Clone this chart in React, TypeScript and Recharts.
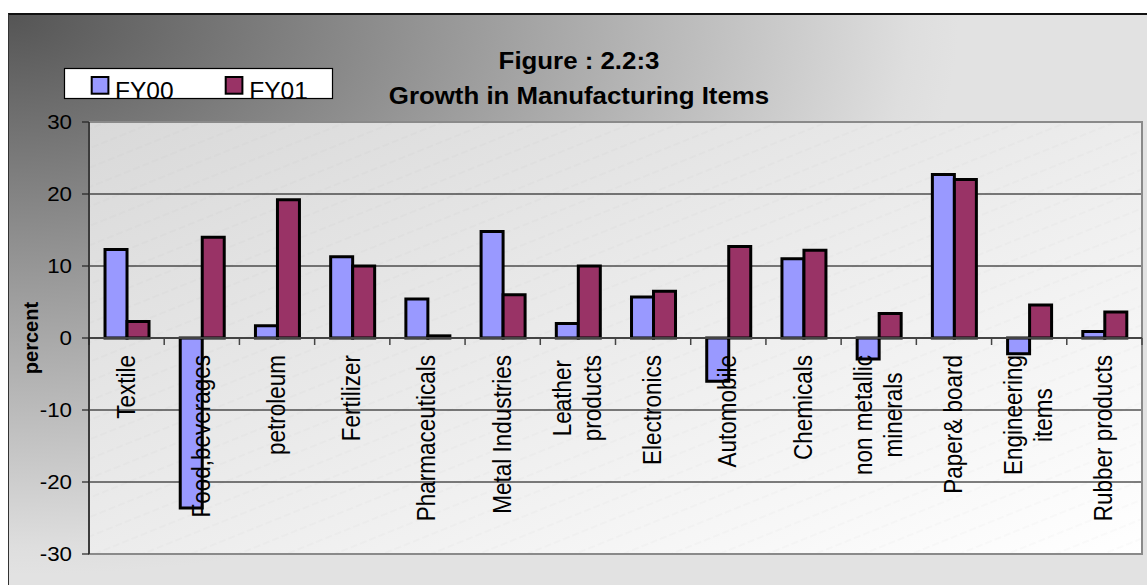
import React from 'react';
import { BarChart, Bar, XAxis, YAxis, CartesianGrid, ReferenceLine, ReferenceArea, Legend, Label } from 'recharts';

const FONT = '"Liberation Sans", Arial, Helvetica, sans-serif';

const categories = [
  'Textile', 'Food,beverages', 'petroleum', 'Fertilizer', 'Pharmaceuticals', 'Metal Industries',
  'Leather products', 'Electronics', 'Automobile', 'Chemicals', 'non metallic minerals',
  'Paper& board', 'Engineering items', 'Rubber products',
];
const categoryLabelLines = [
  ['Textile'], ['Food,beverages'], ['petroleum'], ['Fertilizer'], ['Pharmaceuticals'], ['Metal Industries'],
  ['Leather', 'products'], ['Electronics'], ['Automobile'], ['Chemicals'], ['non metallic', 'minerals'],
  ['Paper& board'], ['Engineering', 'items'], ['Rubber products'],
];
const fy00 = [12.3, -23.6, 1.7, 11.3, 5.4, 14.8, 2.0, 5.7, -6.0, 11.0, -2.9, 22.7, -2.2, 0.9];
const fy01 = [2.3, 14.0, 19.2, 10.0, 0.3, 6.0, 10.0, 6.5, 12.7, 12.2, 3.4, 22.0, 4.6, 3.6];
const yTicks = [-30, -20, -10, 0, 10, 20, 30];
const gridValues = [-20, -10, 10, 20];
const seriesNames = ['FY00', 'FY01'];
const seriesColors = ['#9999FF', '#993366'];
const titleLines = ['Figure : 2.2:3', 'Growth in Manufacturing Items'];
const yAxisTitle = 'percent';

const data = categories.map((c, i) => ({ category: c, [seriesNames[0]]: fy00[i], [seriesNames[1]]: fy01[i] }));

let ctx: CanvasRenderingContext2D | null = null;
function measure(text: string, font: string): number {
  if (!ctx) ctx = document.createElement('canvas').getContext('2d');
  if (!ctx) return text.length * 10;
  ctx.font = font;
  return ctx.measureText(text).width;
}

const CAT_FS = 22.5;
const CAT_SX = 1.12;

const CategoryAxis = (props: any) => {
  const vb = props.viewBox || {};
  const x0 = vb.x ?? 0;
  const y0 = vb.y ?? 0;
  const w = vb.width ?? 0;
  const n = categories.length;
  const band = w / n;
  const elems: any[] = [];
  for (let i = 0; i <= n; i++) {
    elems.push(
      <line key={'t' + i} x1={x0 + i * band} x2={x0 + i * band} y1={y0} y2={y0 + 7} stroke="#444" strokeWidth={1.5} />
    );
  }
  categoryLabelLines.forEach((lines, i) => {
    const cx = x0 + (i + 0.5) * band;
    const widths = lines.map((l) => measure(l, `${CAT_FS}px ${FONT}`));
    const maxW = Math.max(...widths);
    const top = y0 + 17;
    const centerY = top + maxW / 2;
    const spacing = 30;
    lines.forEach((l, j) => {
      const lx = cx + (j - (lines.length - 1) / 2) * spacing;
      const bx = lx + (0.716 * CAT_FS * CAT_SX) / 2 - 1;
      elems.push(
        <text
          key={`l${i}-${j}`}
          transform={`translate(${bx},${centerY}) scale(${CAT_SX},1) rotate(-90)`}
          textAnchor="middle"
          fontSize={CAT_FS}
          fontFamily={FONT}
          fill="#000"
        >
          {l}
        </text>
      );
    });
  });
  return <g>{elems}</g>;
};

const YTick = (p: any) => (
  <text
    transform={`translate(${p.x},${p.y}) scale(1.09,1)`}
    textAnchor="end"
    dy={7.3}
    fontSize={20.5}
    fontFamily={FONT}
    fill="#000"
  >
    {p.payload.value}
  </text>
);

const PercentLabel = (props: any) => {
  const vb = props.viewBox || {};
  const x = (vb.x ?? 0) + 37.5;
  const y = (vb.y ?? 0) + (vb.height ?? 0) / 2;
  return (
    <text transform={`translate(${x},${y}) rotate(-90)`} textAnchor="middle" fontSize={20} fontWeight="bold" fontFamily={FONT} fill="#000">
      {yAxisTitle}
    </text>
  );
};

const LegendBox = (props: any) => {
  const payload = props.payload && props.payload.length ? props.payload : seriesNames.map((s, i) => ({ value: s, color: seriesColors[i] }));
  const markerX = [27.7, 161.7];
  const textX = [51, 185.3];
  return (
    <svg width={269} height={36} style={{ display: 'block', overflow: 'visible' }}>
      <rect x={0.5} y={0.5} width={268} height={30} fill="#fff" stroke="#000" strokeWidth={1.2} />
      {payload.map((item: any, i: number) => (
        <g key={i}>
          <rect x={markerX[i]} y={9} width={16.7} height={16.7} fill={item.color} stroke="#000" strokeWidth={2} />
          <text x={textX[i]} y={30.5} fontSize={24.5} fontFamily={FONT} fill="#000">{item.value}</text>
        </g>
      ))}
    </svg>
  );
};

export default function App() {
  return (
    <div style={{ position: 'absolute', left: 0, top: 0, width: 1147, height: 585, overflow: 'hidden', background: '#fff' }}>
      <div
        style={{
          position: 'absolute',
          left: 8,
          top: 13,
          width: 1200,
          height: 640,
          borderTop: '2px solid #111',
          borderLeft: '1.5px solid #333',
          background: 'radial-gradient(ellipse 950px 560px at 0px 0px, #555555 0%, #dedede 95%, #e2e2e2 100%)',
        }}
      />
      <div style={{ position: 'absolute', left: 0, top: 0 }}>
        <BarChart
          width={1147}
          height={585}
          data={data}
          margin={{ top: 122, right: 5, bottom: 31, left: 0 }}
          barCategoryGap="21.3%"
          barGap={0}
        >
          <defs>
            <linearGradient id="plotGrad" x1="0" y1="0" x2="1" y2="1">
              <stop offset="0" stopColor="#d9d9d9" />
              <stop offset="1" stopColor="#ffffff" />
            </linearGradient>
            <pattern id="hatch" patternUnits="userSpaceOnUse" width="40" height="18" patternTransform="rotate(-22)">
              <line x1="0" y1="9" x2="40" y2="9" stroke="#000" strokeOpacity="0.06" strokeWidth="1" strokeDasharray="7 3" />
            </pattern>
          </defs>
          <XAxis dataKey="category" hide />
          <YAxis
            domain={[-30, 30]}
            ticks={yTicks}
            interval={0}
            width={89}
            allowDataOverflow
            axisLine={{ stroke: '#222', strokeWidth: 1.5 }}
            tickLine={{ stroke: '#222', strokeWidth: 1.2 }}
            tickSize={7}
            tickMargin={10}
            tick={YTick}
          >
            <Label content={PercentLabel} />
          </YAxis>
          <CartesianGrid vertical={false} horizontalValues={gridValues} fill="url(#plotGrad)" stroke="#000" strokeWidth={1} />
          <ReferenceArea y1={-30} y2={30} fill="url(#hatch)" stroke="#8a8a8a" strokeWidth={2} ifOverflow="visible" />
          <Legend
            layout="horizontal"
            verticalAlign="middle"
            align="center"
            wrapperStyle={{ position: 'absolute', left: 64, top: 68, width: 269, height: 31 }}
            content={LegendBox}
          />
          <Bar dataKey={seriesNames[0]} fill={seriesColors[0]} stroke="#000" strokeWidth={3} isAnimationActive={false} />
          <Bar dataKey={seriesNames[1]} fill={seriesColors[1]} stroke="#000" strokeWidth={3} isAnimationActive={false} />
          <ReferenceLine y={0} stroke="#444" strokeWidth={2} label={(p: any) => <CategoryAxis {...p} />} />
        </BarChart>
      </div>
      <svg width={1147} height={585} style={{ position: 'absolute', left: 0, top: 0, pointerEvents: 'none' }}>
        {titleLines.map((t, i) => (
          <text
            key={i}
            transform={`translate(579,${i === 0 ? 69 : 104}) scale(1.1,1)`}
            textAnchor="middle"
            fontSize={23.5}
            fontWeight="bold"
            fontFamily={FONT}
            fill="#000"
          >
            {t}
          </text>
        ))}
      </svg>
    </div>
  );
}
